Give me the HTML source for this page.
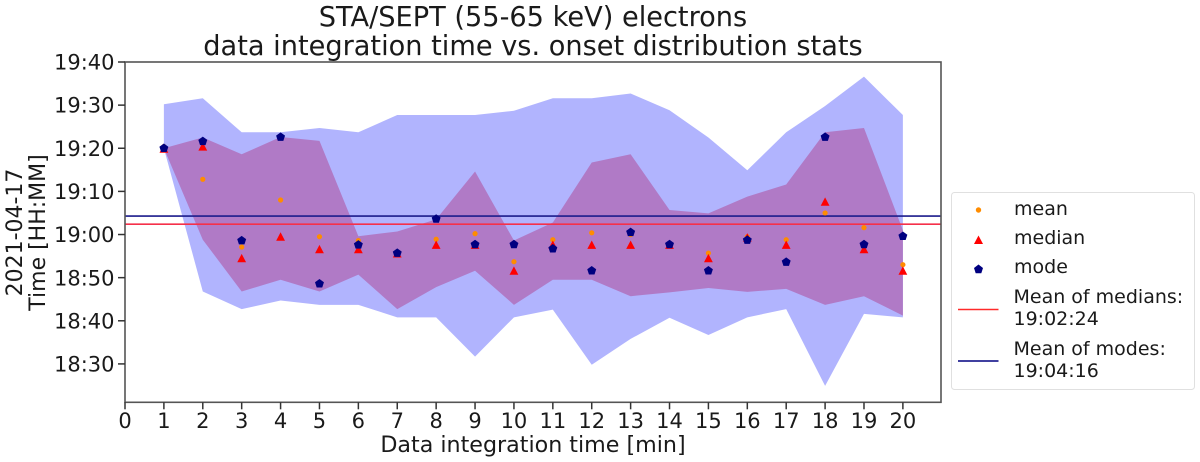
<!DOCTYPE html>
<html lang="en">
<head>
<meta charset="utf-8">
<title>STA/SEPT onset distribution stats</title>
<style>
html,body{margin:0;padding:0;background:#fff;}
body{width:1200px;height:462px;overflow:hidden;}
svg{display:block;filter:blur(0.35px);}
text{font-family:"DejaVu Sans","Liberation Sans",sans-serif;fill:#1a1a1a;}
</style>
</head>
<body>
<svg id="chart" xmlns="http://www.w3.org/2000/svg" width="1200" height="462" viewBox="0 0 1200 462">
  <g text-anchor="middle" font-size="27.2">
    <text x="533" y="26">STA/SEPT (55-65 keV) electrons</text>
    <text x="533" y="55">data integration time vs. onset distribution stats</text>
  </g>
  <g id="bands"></g>
  <g id="refLines"></g>
  <g id="marksMean"></g>
  <g id="marksMedian"></g>
  <g id="marksMode"></g>
  <rect x="125" y="62" width="816" height="340.3" fill="none" stroke="#555" stroke-width="1.6"/>
  <g id="xAxis"></g>
  <g id="yAxis"></g>
  <text x="533" y="452" text-anchor="middle" font-size="22.2">Data integration time [min]</text>
  <g text-anchor="middle" font-size="22">
    <text transform="translate(22,232.5) rotate(-90)">2021-04-17</text>
    <text transform="translate(45,232.5) rotate(-90)">Time [HH:MM]</text>
  </g>
  <g font-size="19">
    <rect x="951.5" y="192.5" width="243" height="197" rx="3" fill="#fff" stroke="#e0e0e0" stroke-width="1"/>
    <g>
      <circle cx="978.5" cy="210" r="2.7" fill="#ff8c00"/>
      <text x="1014" y="215">mean</text>
    </g>
    <g>
      <polygon points="978.5,235.5 983,244 974,244" fill="#f00"/>
      <text x="1014" y="244">median</text>
    </g>
    <g>
      <polygon points="978.5,264.5 983,268 981.3,273.2 975.7,273.2 974,268" fill="#000080"/>
      <text x="1014" y="273">mode</text>
    </g>
    <g>
      <line x1="958" x2="998.5" y1="309.5" y2="309.5" stroke="#ff2a2a" stroke-width="1.4"/>
      <text x="1013.5" y="303">Mean of medians:</text>
      <text x="1013.5" y="325">19:02:24</text>
    </g>
    <g>
      <line x1="958" x2="998.5" y1="361" y2="361" stroke="#000080" stroke-width="1.4"/>
      <text x="1013.5" y="355">Mean of modes:</text>
      <text x="1013.5" y="377">19:04:16</text>
    </g>
  </g>
</svg>
<script>
// All series values: minutes relative to 19:00
const integrationTimes = [1,2,3,4,5,6,7,8,9,10,11,12,13,14,15,16,17,18,19,20];
const outerUpper = [30.2,31.6,23.7,23.7,24.7,23.7,27.7,27.7,27.7,28.7,31.6,31.6,32.7,28.8,22.5,14.9,23.7,29.8,36.6,27.7];
const outerLower = [20,-13.2,-17.3,-15.3,-16.3,-16.3,-19.2,-19.2,-28.3,-19.2,-17.4,-30.2,-24.2,-19.3,-23.3,-19.2,-17.3,-35.1,-18.4,-19.2];
const innerUpper = [20,22.5,18.6,22.6,21.7,-0.4,0.7,3.5,14.6,-1.4,2.8,16.7,18.6,5.7,4.9,8.8,11.6,23.7,24.7,1.0];
const innerLower = [20,-1.2,-13.2,-10.5,-13.2,-9.3,-17.3,-12.2,-8.4,-16.3,-10.5,-10.5,-14.3,-13.4,-12.4,-13.3,-12.6,-16.3,-14.3,-18.8];
const meanValues = [20.4,12.8,-2.9,8,-0.5,-1.4,-4.6,-1.1,0.2,-6.3,-1.2,0.4,0,-2.4,-4.3,-0.5,-1.2,5,1.6,-7];
const medianValues = [19.8,20.3,-5.6,-0.6,-3.5,-3.5,-4.5,-2.5,-2.5,-8.5,-2.5,-2.5,-2.5,-2.5,-5.6,-0.8,-2.5,7.5,-3.5,-8.5];
const modeValues = [20,21.6,-1.4,22.6,-11.4,-2.4,-4.3,3.6,-2.3,-2.3,-3.3,-8.4,0.5,-2.3,-8.4,-1.3,-6.4,22.6,-2.3,-0.4];
const meanOfMedians = 2.4;
const meanOfModes = 4.27;
const xTickLabels = [0,1,2,3,4,5,6,7,8,9,10,11,12,13,14,15,16,17,18,19,20];
const yTickLabels = ["18:30","18:40","18:50","19:00","19:10","19:20","19:30","19:40"];

const NS = 'http://www.w3.org/2000/svg';
const plot = {left:125, right:941, top:62, bottom:402.3};
const xMin = 0, xMax = 20.98, yMin = -38.9, yMax = 40;
function xScale(v){ return plot.left + (v - xMin) / (xMax - xMin) * (plot.right - plot.left); }
function yScale(v){ return plot.bottom - (v - yMin) / (yMax - yMin) * (plot.bottom - plot.top); }
function labelToMinutes(s){ const p = s.split(':'); return (+p[0] - 19) * 60 + (+p[1]); }
function make(tag, attrs, parent){
  const el = document.createElementNS(NS, tag);
  for (const k in attrs) el.setAttribute(k, attrs[k]);
  parent.appendChild(el);
  return el;
}
function bandPoints(up, lo){
  const a = integrationTimes.map((t,i) => xScale(t).toFixed(2) + ',' + yScale(up[i]).toFixed(2));
  const b = integrationTimes.map((t,i) => xScale(t).toFixed(2) + ',' + yScale(lo[i]).toFixed(2)).reverse();
  return a.concat(b).join(' ');
}

const bands = document.getElementById('bands');
const outerBand = make('polygon', {points: bandPoints(outerUpper, outerLower), fill:'#b1b4fe'}, bands);


const innerBand = make('polygon', {points: bandPoints(innerUpper, innerLower), fill:'#b07ac6'}, bands);



const refLines = document.getElementById('refLines');
const medianLine = make('line', {x1:plot.left, x2:plot.right, y1:yScale(meanOfMedians), y2:yScale(meanOfMedians), stroke:'#f5304a', 'stroke-width':1.6}, refLines);


const modeLine = make('line', {x1:plot.left, x2:plot.right, y1:yScale(meanOfModes), y2:yScale(meanOfModes), stroke:'#1c1c8c', 'stroke-width':1.6}, refLines);



const meanGroup = document.getElementById('marksMean');
integrationTimes.forEach((t,i) => {
  const c = make('circle', {cx:xScale(t), cy:yScale(meanValues[i]), r:2.6, fill:'#ff8c00'}, meanGroup);
  
  
});
const medianGroup = document.getElementById('marksMedian');
integrationTimes.forEach((t,i) => {
  const x = xScale(t), y = yScale(medianValues[i]);
  const p = make('polygon', {points:[[x,y-4.8],[x+4.4,y+3.6],[x-4.4,y+3.6]].map(q => q.join(',')).join(' '), fill:'#f00'}, medianGroup);
  
  
});
const modeGroup = document.getElementById('marksMode');
integrationTimes.forEach((t,i) => {
  const x = xScale(t), y = yScale(modeValues[i]);
  const pts = [0,1,2,3,4].map(k => {
    const a = -Math.PI/2 + k*2*Math.PI/5;
    return (x + 4.7*Math.cos(a)).toFixed(2) + ',' + (y + 4.7*Math.sin(a)).toFixed(2);
  }).join(' ');
  const p = make('polygon', {points:pts, fill:'#000080'}, modeGroup);
  
  
});

const xAxis = document.getElementById('xAxis');
xTickLabels.forEach(v => {
  const x = xScale(v);
  const tick = make('line', {x1:x, x2:x, y1:plot.bottom, y2:plot.bottom+7, stroke:'#333', 'stroke-width':1.5}, xAxis);
  
  
  const lab = make('text', {x:x, y:428, 'text-anchor':'middle', 'font-size':21}, xAxis);
  
  
  lab.textContent = v;
});
const yAxis = document.getElementById('yAxis');
yTickLabels.forEach(s => {
  const y = yScale(labelToMinutes(s));
  const tick = make('line', {x1:plot.left-7, x2:plot.left, y1:y, y2:y, stroke:'#333', 'stroke-width':1.5}, yAxis);
  
  
  const lab = make('text', {x:114.5, y:y+7.6, 'text-anchor':'end', 'font-size':21}, yAxis);
  
  
  lab.textContent = s;
});
</script>
</body>
</html>
